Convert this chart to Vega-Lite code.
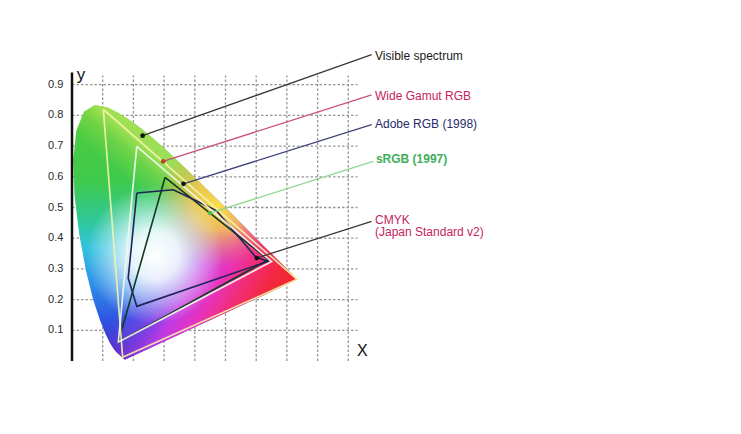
{
  "$schema": "https://vega.github.io/schema/vega-lite/v6.json",
  "width": 307,
  "height": 307,
  "autosize": {"type": "none"},
  "padding": {"left": 72, "top": 54, "right": 362, "bottom": 73},
  "background": "white",
  "config": {"view": {"stroke": null}, "font": "Liberation Sans"},
  "resolve": {"scale": {"color": "independent"}},
  "datasets": {
    "grid": [{"v": 0.1}, {"v": 0.2}, {"v": 0.3}, {"v": 0.4}, {"v": 0.5}, {"v": 0.6}, {"v": 0.7}, {"v": 0.8}, {"v": 0.9}],
    "locus": [
      {"i": 0, "x": 0.1741, "y": 0.005},
      {"i": 1, "x": 0.1714, "y": 0.0051},
      {"i": 2, "x": 0.1689, "y": 0.0069},
      {"i": 3, "x": 0.1644, "y": 0.0109},
      {"i": 4, "x": 0.1566, "y": 0.0177},
      {"i": 5, "x": 0.151, "y": 0.0227},
      {"i": 6, "x": 0.144, "y": 0.0297},
      {"i": 7, "x": 0.1355, "y": 0.0399},
      {"i": 8, "x": 0.1241, "y": 0.0578},
      {"i": 9, "x": 0.1096, "y": 0.0868},
      {"i": 10, "x": 0.0913, "y": 0.1327},
      {"i": 11, "x": 0.0687, "y": 0.2007},
      {"i": 12, "x": 0.0454, "y": 0.295},
      {"i": 13, "x": 0.0235, "y": 0.4127},
      {"i": 14, "x": 0.0082, "y": 0.5384},
      {"i": 15, "x": 0.0039, "y": 0.6548},
      {"i": 16, "x": 0.0139, "y": 0.7502},
      {"i": 17, "x": 0.0389, "y": 0.812},
      {"i": 18, "x": 0.0743, "y": 0.8338},
      {"i": 19, "x": 0.1142, "y": 0.8262},
      {"i": 20, "x": 0.1547, "y": 0.8059},
      {"i": 21, "x": 0.1929, "y": 0.7816},
      {"i": 22, "x": 0.2296, "y": 0.7543},
      {"i": 23, "x": 0.2658, "y": 0.7243},
      {"i": 24, "x": 0.3016, "y": 0.6923},
      {"i": 25, "x": 0.3373, "y": 0.6589},
      {"i": 26, "x": 0.3731, "y": 0.6245},
      {"i": 27, "x": 0.4087, "y": 0.5896},
      {"i": 28, "x": 0.4441, "y": 0.5547},
      {"i": 29, "x": 0.4788, "y": 0.5202},
      {"i": 30, "x": 0.5125, "y": 0.4866},
      {"i": 31, "x": 0.5448, "y": 0.4544},
      {"i": 32, "x": 0.5752, "y": 0.4242},
      {"i": 33, "x": 0.6029, "y": 0.3965},
      {"i": 34, "x": 0.627, "y": 0.3725},
      {"i": 35, "x": 0.6482, "y": 0.3514},
      {"i": 36, "x": 0.6658, "y": 0.334},
      {"i": 37, "x": 0.6915, "y": 0.3083},
      {"i": 38, "x": 0.7079, "y": 0.292},
      {"i": 39, "x": 0.719, "y": 0.2809},
      {"i": 40, "x": 0.726, "y": 0.274},
      {"i": 41, "x": 0.73, "y": 0.27},
      {"i": 42, "x": 0.7347, "y": 0.2653}
    ],
    "gamut": [
      {"g": "WG", "i": 0, "x": 0.102, "y": 0.82},
      {"g": "WG", "i": 1, "x": 0.733, "y": 0.266},
      {"g": "WG", "i": 2, "x": 0.165, "y": 0.012},
      {"g": "WG", "i": 3, "x": 0.102, "y": 0.82},
      {"g": "Adobe", "i": 0, "x": 0.211, "y": 0.699},
      {"g": "Adobe", "i": 1, "x": 0.65, "y": 0.324},
      {"g": "Adobe", "i": 2, "x": 0.151, "y": 0.062},
      {"g": "Adobe", "i": 3, "x": 0.211, "y": 0.699},
      {"g": "sRGB", "i": 0, "x": 0.303, "y": 0.598},
      {"g": "sRGB", "i": 1, "x": 0.64, "y": 0.33},
      {"g": "sRGB", "i": 2, "x": 0.151, "y": 0.062},
      {"g": "sRGB", "i": 3, "x": 0.303, "y": 0.598},
      {"g": "CMYK", "i": 0, "x": 0.211, "y": 0.547},
      {"g": "CMYK", "i": 1, "x": 0.33, "y": 0.558},
      {"g": "CMYK", "i": 2, "x": 0.43, "y": 0.51},
      {"g": "CMYK", "i": 3, "x": 0.47, "y": 0.49},
      {"g": "CMYK", "i": 4, "x": 0.6, "y": 0.337},
      {"g": "CMYK", "i": 5, "x": 0.64, "y": 0.325},
      {"g": "CMYK", "i": 6, "x": 0.211, "y": 0.178},
      {"g": "CMYK", "i": 7, "x": 0.183, "y": 0.27},
      {"g": "CMYK", "i": 8, "x": 0.211, "y": 0.547}
    ],
    "leaders": [
      {"name": "Visible", "x": 0.23, "y": 0.734, "x2": 0.976, "y2": 0.998},
      {"name": "WG", "x": 0.297, "y": 0.65, "x2": 0.976, "y2": 0.867},
      {"name": "Adobe", "x": 0.363, "y": 0.577, "x2": 0.976, "y2": 0.77},
      {"name": "sRGB", "x": 0.4495, "y": 0.482, "x2": 0.981, "y2": 0.65},
      {"name": "CMYK", "x": 0.6016, "y": 0.3355, "x2": 0.976, "y2": 0.4547}
    ],
    "labels": [
      {"name": "Visible", "t": "Visible spectrum", "x": 0.987, "y": 0.993},
      {"name": "WG", "t": "Wide Gamut RGB", "x": 0.987, "y": 0.864},
      {"name": "Adobe", "t": "Adobe RGB (1998)", "x": 0.987, "y": 0.773},
      {"name": "CMYK", "t": "CMYK", "x": 0.987, "y": 0.46},
      {"name": "CMYK", "t": "(Japan Standard v2)", "x": 0.987, "y": 0.419}
    ],
    "boldlabels": [
      {"t": "sRGB (1997)", "x": 0.99, "y": 0.658}
    ]
  },
  "layer": [
    {
      "data": {"name": "grid"},
      "mark": {"type": "rule", "stroke": "#959595", "strokeWidth": 1.3, "strokeDash": [2.5, 2]},
      "encoding": {
        "x": {"field": "v", "type": "quantitative", "scale": {"domain": [0, 1], "nice": false, "zero": false}, "axis": null},
        "y": {"datum": 0, "type": "quantitative", "scale": {"domain": [0, 1], "nice": false, "zero": false}, "axis": null},
        "y2": {"datum": 0.93}
      }
    },
    {
      "data": {"name": "grid"},
      "mark": {"type": "rule", "stroke": "#959595", "strokeWidth": 1.3, "strokeDash": [2.5, 2]},
      "encoding": {
        "y": {"field": "v", "type": "quantitative", "scale": {"domain": [0, 1], "nice": false, "zero": false}, "axis": null},
        "x": {"datum": 0, "type": "quantitative", "scale": {"domain": [0, 1], "nice": false, "zero": false}, "axis": null},
        "x2": {"datum": 0.93}
      }
    },
    {
      "data": {"name": "grid"},
      "mark": {"type": "text", "align": "right", "baseline": "middle", "fontSize": 11, "font": "Liberation Sans", "color": "#2a2a2a"},
      "encoding": {
        "y": {"field": "v", "type": "quantitative", "scale": {"domain": [0, 1], "nice": false, "zero": false}, "axis": null},
        "x": {"datum": -0.028, "type": "quantitative", "scale": {"domain": [0, 1], "nice": false, "zero": false}, "axis": null},
        "text": {"field": "v", "type": "quantitative", "format": ".1f"}
      }
    },
    {
      "data": {"name": "locus"},
      "mark": {"type": "line", "strokeOpacity": 0, "fill": {"gradient": "linear", "x1": 0, "y1": 0, "x2": 0, "y2": 1, "stops": [
        {"offset": 0, "color": "#52cc3c"},
        {"offset": 0.3, "color": "#3fca4c"},
        {"offset": 0.45, "color": "#30c896"},
        {"offset": 0.56, "color": "#30c2de"},
        {"offset": 0.7, "color": "#2e90e8"},
        {"offset": 0.85, "color": "#3052e2"},
        {"offset": 1, "color": "#4a24bc"}]}},
      "encoding": {
        "x": {"field": "x", "type": "quantitative", "scale": {"domain": [0, 1], "nice": false, "zero": false}, "axis": null},
        "y": {"field": "y", "type": "quantitative", "scale": {"domain": [0, 1], "nice": false, "zero": false}, "axis": null},
        "order": {"field": "i", "type": "quantitative"}
      }
    },
    {
      "data": {"name": "locus"},
      "mark": {"type": "line", "strokeOpacity": 0, "fill": {"gradient": "linear", "x1": 0.459, "y1": 0.462, "x2": 0.55, "y2": 0.343, "stops": [
        {"offset": 0, "color": "rgba(215,235,80,0)"},
        {"offset": 0.6, "color": "rgba(215,235,80,0.25)"},
        {"offset": 1, "color": "rgba(225,240,100,0.55)"}]}},
      "encoding": {
        "x": {"field": "x", "type": "quantitative", "scale": {"domain": [0, 1], "nice": false, "zero": false}, "axis": null},
        "y": {"field": "y", "type": "quantitative", "scale": {"domain": [0, 1], "nice": false, "zero": false}, "axis": null},
        "order": {"field": "i", "type": "quantitative"}
      }
    },
    {
      "data": {"name": "locus"},
      "mark": {"type": "line", "strokeOpacity": 0, "fill": {"gradient": "linear", "x1": 0.508, "y1": 0.32, "x2": 1.058, "y2": 0.666, "stops": [
        {"offset": 0, "color": "rgba(150,60,235,0)"},
        {"offset": 0.185, "color": "rgba(165,60,235,0.5)"},
        {"offset": 0.34, "color": "rgba(210,55,228,0.9)"},
        {"offset": 0.49, "color": "rgba(232,50,190,1)"},
        {"offset": 0.65, "color": "rgba(242,45,115,1)"},
        {"offset": 0.8, "color": "rgba(243,40,62,1)"},
        {"offset": 1, "color": "rgba(240,35,40,1)"}]}},
      "encoding": {
        "x": {"field": "x", "type": "quantitative", "scale": {"domain": [0, 1], "nice": false, "zero": false}, "axis": null},
        "y": {"field": "y", "type": "quantitative", "scale": {"domain": [0, 1], "nice": false, "zero": false}, "axis": null},
        "order": {"field": "i", "type": "quantitative"}
      }
    },
    {
      "data": {"name": "locus"},
      "mark": {"type": "line", "strokeOpacity": 0, "fill": {"gradient": "radial", "x1": 0.63, "y1": 0.39, "r1": 0, "x2": 0.63, "y2": 0.39, "r2": 0.25, "stops": [
        {"offset": 0, "color": "rgba(250,222,70,1)"},
        {"offset": 0.4, "color": "rgba(250,205,70,0.82)"},
        {"offset": 0.7, "color": "rgba(245,175,70,0.4)"},
        {"offset": 1, "color": "rgba(240,150,60,0)"}]}},
      "encoding": {
        "x": {"field": "x", "type": "quantitative", "scale": {"domain": [0, 1], "nice": false, "zero": false}, "axis": null},
        "y": {"field": "y", "type": "quantitative", "scale": {"domain": [0, 1], "nice": false, "zero": false}, "axis": null},
        "order": {"field": "i", "type": "quantitative"}
      }
    },
    {
      "data": {"name": "locus"},
      "mark": {"type": "line", "strokeOpacity": 0, "fill": {"gradient": "radial", "x1": 0.38, "y1": 0.59, "r1": 0, "x2": 0.38, "y2": 0.59, "r2": 0.27, "stops": [
        {"offset": 0, "color": "rgba(255,255,255,1)"},
        {"offset": 0.35, "color": "rgba(255,255,255,0.88)"},
        {"offset": 0.7, "color": "rgba(255,255,255,0.4)"},
        {"offset": 1, "color": "rgba(255,255,255,0)"}]}},
      "encoding": {
        "x": {"field": "x", "type": "quantitative", "scale": {"domain": [0, 1], "nice": false, "zero": false}, "axis": null},
        "y": {"field": "y", "type": "quantitative", "scale": {"domain": [0, 1], "nice": false, "zero": false}, "axis": null},
        "order": {"field": "i", "type": "quantitative"}
      }
    },
    {
      "data": {"name": "gamut"},
      "transform": [{"filter": "datum.g === 'sRGB'"}],
      "mark": {"type": "line", "stroke": "#123a1e", "strokeWidth": 1.6},
      "encoding": {
        "x": {"field": "x", "type": "quantitative", "scale": {"domain": [0, 1], "nice": false, "zero": false}, "axis": null},
        "y": {"field": "y", "type": "quantitative", "scale": {"domain": [0, 1], "nice": false, "zero": false}, "axis": null},
        "order": {"field": "i", "type": "quantitative"}
      }
    },
    {
      "data": {"name": "gamut"},
      "transform": [{"filter": "datum.g === 'CMYK'"}],
      "mark": {"type": "line", "stroke": "#1e2458", "strokeWidth": 1.6},
      "encoding": {
        "x": {"field": "x", "type": "quantitative", "scale": {"domain": [0, 1], "nice": false, "zero": false}, "axis": null},
        "y": {"field": "y", "type": "quantitative", "scale": {"domain": [0, 1], "nice": false, "zero": false}, "axis": null},
        "order": {"field": "i", "type": "quantitative"}
      }
    },
    {
      "data": {"name": "gamut"},
      "transform": [{"filter": "datum.g === 'WG'"}],
      "mark": {"type": "line", "stroke": "#f4f4a8", "strokeWidth": 1.7, "strokeOpacity": 0.9},
      "encoding": {
        "x": {"field": "x", "type": "quantitative", "scale": {"domain": [0, 1], "nice": false, "zero": false}, "axis": null},
        "y": {"field": "y", "type": "quantitative", "scale": {"domain": [0, 1], "nice": false, "zero": false}, "axis": null},
        "order": {"field": "i", "type": "quantitative"}
      }
    },
    {
      "data": {"name": "gamut"},
      "transform": [{"filter": "datum.g === 'Adobe'"}],
      "mark": {"type": "line", "stroke": "#f4f8f2", "strokeWidth": 1.7, "strokeOpacity": 0.9},
      "encoding": {
        "x": {"field": "x", "type": "quantitative", "scale": {"domain": [0, 1], "nice": false, "zero": false}, "axis": null},
        "y": {"field": "y", "type": "quantitative", "scale": {"domain": [0, 1], "nice": false, "zero": false}, "axis": null},
        "order": {"field": "i", "type": "quantitative"}
      }
    },
    {
      "data": {"name": "leaders"},
      "mark": {"type": "rule", "strokeWidth": 1.3},
      "encoding": {
        "x": {"field": "x", "type": "quantitative", "scale": {"domain": [0, 1], "nice": false, "zero": false}, "axis": null},
        "y": {"field": "y", "type": "quantitative", "scale": {"domain": [0, 1], "nice": false, "zero": false}, "axis": null},
        "x2": {"field": "x2"},
        "y2": {"field": "y2"},
        "color": {"field": "name", "type": "nominal", "legend": null,
          "scale": {"domain": ["Visible", "WG", "Adobe", "sRGB", "CMYK"], "range": ["#3a3a3a", "#c8507a", "#3c4278", "#8ed88e", "#3a3a3a"]}}
      }
    },
    {
      "data": {"name": "leaders"},
      "mark": {"type": "circle", "size": 22, "opacity": 1},
      "encoding": {
        "x": {"field": "x", "type": "quantitative", "scale": {"domain": [0, 1], "nice": false, "zero": false}, "axis": null},
        "y": {"field": "y", "type": "quantitative", "scale": {"domain": [0, 1], "nice": false, "zero": false}, "axis": null},
        "color": {"field": "name", "type": "nominal", "legend": null,
          "scale": {"domain": ["Visible", "WG", "Adobe", "sRGB", "CMYK"], "range": ["#111111", "#b04a1a", "#111111", "#58b858", "#111111"]}}
      }
    },
    {
      "data": {"name": "labels"},
      "mark": {"type": "text", "align": "left", "baseline": "middle", "fontSize": 12, "font": "Liberation Sans"},
      "encoding": {
        "x": {"field": "x", "type": "quantitative", "scale": {"domain": [0, 1], "nice": false, "zero": false}, "axis": null},
        "y": {"field": "y", "type": "quantitative", "scale": {"domain": [0, 1], "nice": false, "zero": false}, "axis": null},
        "text": {"field": "t"},
        "color": {"field": "name", "type": "nominal", "legend": null,
          "scale": {"domain": ["Visible", "WG", "Adobe", "CMYK"], "range": ["#1a1a1a", "#c6245c", "#262c6a", "#c6245c"]}}
      }
    },
    {
      "data": {"name": "boldlabels"},
      "mark": {"type": "text", "align": "left", "baseline": "middle", "fontSize": 12, "fontWeight": "bold", "font": "Liberation Sans", "color": "#3fae5a"},
      "encoding": {
        "x": {"field": "x", "type": "quantitative", "scale": {"domain": [0, 1], "nice": false, "zero": false}, "axis": null},
        "y": {"field": "y", "type": "quantitative", "scale": {"domain": [0, 1], "nice": false, "zero": false}, "axis": null},
        "text": {"field": "t"}
      }
    },
    {
      "data": {"values": [{}]},
      "mark": {"type": "rule", "stroke": "#111111", "strokeWidth": 2.5},
      "encoding": {
        "x": {"datum": 0, "type": "quantitative", "scale": {"domain": [0, 1], "nice": false, "zero": false}, "axis": null},
        "y": {"datum": 0, "type": "quantitative", "scale": {"domain": [0, 1], "nice": false, "zero": false}, "axis": null},
        "y2": {"datum": 0.94}
      }
    },
    {
      "data": {"values": [{}]},
      "mark": {"type": "text", "text": "y", "fontSize": 17, "font": "Liberation Sans", "color": "#111111", "align": "center", "baseline": "middle"},
      "encoding": {
        "x": {"datum": 0.029, "type": "quantitative", "scale": {"domain": [0, 1], "nice": false, "zero": false}, "axis": null},
        "y": {"datum": 0.933, "type": "quantitative", "scale": {"domain": [0, 1], "nice": false, "zero": false}, "axis": null}
      }
    },
    {
      "data": {"values": [{}]},
      "mark": {"type": "text", "text": "X", "fontSize": 16, "font": "Liberation Sans", "color": "#111111", "align": "center", "baseline": "middle"},
      "encoding": {
        "x": {"datum": 0.946, "type": "quantitative", "scale": {"domain": [0, 1], "nice": false, "zero": false}, "axis": null},
        "y": {"datum": 0.031, "type": "quantitative", "scale": {"domain": [0, 1], "nice": false, "zero": false}, "axis": null}
      }
    }
  ]
}
